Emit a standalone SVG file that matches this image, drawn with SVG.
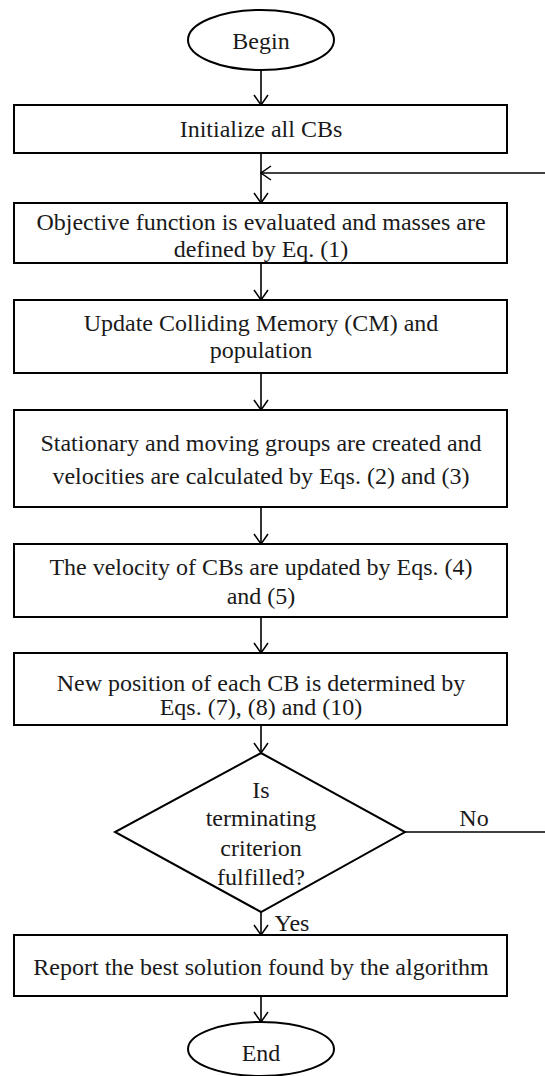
<svg xmlns="http://www.w3.org/2000/svg" width="545" height="1076" viewBox="0 0 545 1076">
<defs>
<marker id="ah" viewBox="0 0 12 16" refX="11" refY="8" markerWidth="12" markerHeight="16" markerUnits="userSpaceOnUse" orient="auto">
<path d="M1,1 L11,8 L1,15" fill="none" stroke="#000" stroke-width="1.5"/>
</marker>
<style>
.b{fill:#fff;stroke:#000;stroke-width:2}
.t{font-family:"Liberation Serif","Times New Roman",serif;font-size:24px;fill:#1a1a1a;text-anchor:middle}
.c{fill:none;stroke:#000;stroke-width:1.6}
</style>
</defs>
<rect width="545" height="1076" fill="#fff"/>
<g id="connectors">
<line class="c" x1="261" y1="70" x2="261" y2="105" marker-end="url(#ah)"/>
<line class="c" x1="261" y1="153" x2="261" y2="203" marker-end="url(#ah)"/>
<line class="c" x1="545" y1="173" x2="261" y2="173" marker-end="url(#ah)"/>
<line class="c" x1="261" y1="263" x2="261" y2="300" marker-end="url(#ah)"/>
<line class="c" x1="261" y1="373" x2="261" y2="410" marker-end="url(#ah)"/>
<line class="c" x1="261" y1="507" x2="261" y2="544" marker-end="url(#ah)"/>
<line class="c" x1="261" y1="617" x2="261" y2="653" marker-end="url(#ah)"/>
<line class="c" x1="261" y1="725" x2="261" y2="753" marker-end="url(#ah)"/>
<line class="c" x1="405" y1="832" x2="545" y2="832"/>
<text class="t" x="474" y="826">No</text>
<line class="c" x1="261" y1="912" x2="261" y2="935" marker-end="url(#ah)"/>
<text class="t" x="292" y="931">Yes</text>
<line class="c" x1="261" y1="996" x2="261" y2="1022" marker-end="url(#ah)"/>
</g>
<g id="begin">
<ellipse class="b" cx="261" cy="40" rx="73" ry="30"/>
<text class="t" x="261" y="49">Begin</text>
</g>
<g id="init">
<rect class="b" x="14" y="105" width="493" height="48"/>
<text class="t" x="261" y="137">Initialize all CBs</text>
</g>
<g id="objective">
<rect class="b" x="14" y="203" width="493" height="60"/>
<text class="t" x="261" y="230">Objective function is evaluated and masses are</text>
<text class="t" x="261" y="257">defined by Eq. (1)</text>
</g>
<g id="update">
<rect class="b" x="14" y="300" width="493" height="73"/>
<text class="t" x="261" y="331">Update Colliding Memory (CM) and</text>
<text class="t" x="261" y="358">population</text>
</g>
<g id="groups">
<rect class="b" x="14" y="410" width="493" height="97"/>
<text class="t" x="261" y="451">Stationary and moving groups are created and</text>
<text class="t" x="261" y="484">velocities are calculated by Eqs. (2) and (3)</text>
</g>
<g id="velocity">
<rect class="b" x="14" y="544" width="493" height="73"/>
<text class="t" x="261" y="575">The velocity of CBs are updated by Eqs. (4)</text>
<text class="t" x="261" y="604">and (5)</text>
</g>
<g id="position">
<rect class="b" x="14" y="653" width="493" height="72"/>
<text class="t" x="261" y="691">New position of each CB is determined by</text>
<text class="t" x="261" y="715">Eqs. (7), (8) and (10)</text>
</g>
<g id="decision">
<polygon class="b" points="261,753 405,832 261,912 115,832"/>
<text class="t" x="261" y="798">Is</text>
<text class="t" x="261" y="826">terminating</text>
<text class="t" x="261" y="856">criterion</text>
<text class="t" x="261" y="885">fulfilled?</text>
</g>
<g id="report">
<rect class="b" x="14" y="935" width="493" height="61"/>
<text class="t" x="261" y="975">Report the best solution found by the algorithm</text>
</g>
<g id="end">
<ellipse class="b" cx="261" cy="1049" rx="73" ry="27"/>
<text class="t" x="261" y="1061">End</text>
</g>
</svg>
